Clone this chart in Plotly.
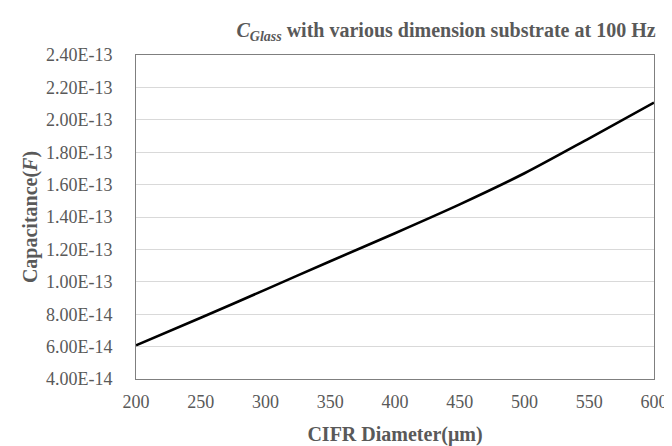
import plotly.graph_objects as go

diameter_um = [200, 250, 300, 350, 400, 450, 500, 550, 600]
capacitance_F = [6.08e-14, 7.78e-14, 9.52e-14, 1.127e-13, 1.30e-13, 1.478e-13, 1.67e-13, 1.886e-13, 2.106e-13]

y_tick_vals = [4e-14, 6e-14, 8e-14, 1e-13, 1.2e-13, 1.4e-13, 1.6e-13, 1.8e-13, 2.0e-13, 2.2e-13, 2.4e-13]
y_tick_text = ["4.00E-14", "6.00E-14", "8.00E-14", "1.00E-13", "1.20E-13", "1.40E-13",
               "1.60E-13", "1.80E-13", "2.00E-13", "2.20E-13", "2.40E-13"]
x_tick_vals = [200, 250, 300, 350, 400, 450, 500, 550, 600]

gray = "#595959"
font_family = "'Times New Roman', 'Liberation Serif', 'DejaVu Serif', serif"

fig = go.Figure()
fig.add_trace(go.Scatter(
    x=diameter_um, y=capacitance_F, mode="lines",
    line=dict(color="black", width=2.6, shape="spline", smoothing=0.8),
    showlegend=False, hoverinfo="skip"))

fig.update_layout(
    width=672, height=446,
    margin=dict(l=128, r=14, t=47, b=68),
    paper_bgcolor="white", plot_bgcolor="white",
    font=dict(family=font_family, color=gray, size=18),
    title=dict(text="<b><i>C<sub>Glass</sub></i> with various dimension substrate at 100 Hz</b>",
               x=438/672, xanchor="center", y=1 - 22/446, yanchor="middle",
               font=dict(family=font_family, size=20, color=gray)),
)
fig.update_xaxes(
    range=[200, 600], tickvals=x_tick_vals, ticks="", showgrid=False, zeroline=False,
    showline=True, linecolor="#7f7f7f", linewidth=1, mirror=True,
    tickfont=dict(family=font_family, size=18, color=gray),
    ticklabelstandoff=6,
    title=dict(text="<b>CIFR Diameter(μm)</b>", standoff=16,
               font=dict(family=font_family, size=20, color=gray)))
fig.update_yaxes(
    range=[4e-14, 2.4e-13], tickvals=y_tick_vals, ticktext=y_tick_text, ticks="",
    showgrid=True, gridcolor="#d9d9d9", gridwidth=1, zeroline=False,
    showline=True, linecolor="#7f7f7f", linewidth=1, mirror=True,
    tickfont=dict(family=font_family, size=18, color=gray),
    ticklabelstandoff=19,
    title=dict(text="<b>Capacitance(<i>F</i>)</b>", standoff=2,
               font=dict(family=font_family, size=20, color=gray)))

fig.write_html("out.html")
